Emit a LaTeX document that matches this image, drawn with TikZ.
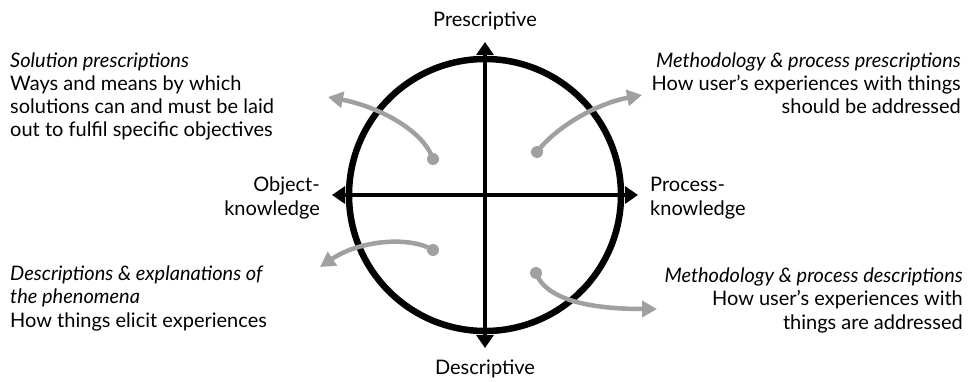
\documentclass[tikz,border=0pt]{standalone}
\usepackage{fontspec}
\setmainfont{Lato}
\usetikzlibrary{arrows.meta}
\definecolor{flowgray}{RGB}{160,160,160}

\begin{document}
\begin{tikzpicture}[x=1pt, y=-1pt,
    axis/.style={line width=4.5pt, {Triangle[length=13pt,width=17pt]}-{Triangle[length=13pt,width=17pt]}},
    flow/.style={draw=flowgray, line width=4.5pt, -{Triangle[length=15pt,width=16pt]}},
    dot/.style={circle, fill=flowgray, inner sep=0pt, minimum size=12pt},
    lbl/.style={inner sep=0pt, font=\fontsize{20}{23.3}\selectfont}]

  \useasboundingbox (0,0) rectangle (968,382);

  % circle and the two axes
  \coordinate (c) at (485,195);
  \draw[line width=6.5pt] (c) circle[radius=136];
  \coordinate (wtip) at (332,195);
  \coordinate (etip) at (638,195);
  \coordinate (ntip) at (485,42);
  \coordinate (stip) at (485,348);
  \draw[axis] (wtip) -- (etip);
  \draw[axis] (ntip) -- (stip);

  % axis labels (base = last line)
  \node[lbl, anchor=base] (pre) at (485,27) {Prescriptive};
  \node[lbl, anchor=base] (des) at (485,374) {Descriptive};
  \node[lbl, align=right, anchor=base east] (obj) at (320,215) {Object-\\knowledge};
  \node[lbl, align=left, anchor=base west] (proc) at (650,215) {Process-\\knowledge};

  % quadrant texts
  \node[lbl, align=left, anchor=base west] (solp) at (10,137)
    {\textit{Solution prescriptions}\\Ways and means by which\\solutions can and must be laid\\out to fulfil specific objectives};
  \node[lbl, align=right, anchor=base east] (metp) at (961,114)
    {\textit{Methodology \& process prescriptions}\\How user’s experiences with things\\should be addressed};
  \node[lbl, align=left, anchor=base west] (desc) at (10,327)
    {\textit{Descriptions \& explanations of}\\\textit{the phenomena}\\How things elicit experiences};
  \node[lbl, align=right, anchor=base east] (metd) at (963,329)
    {\textit{Methodology \& process descriptions}\\How user’s experiences with\\things are addressed};

  % gray arrows out of the quadrants
  \node[dot] (d1) at (433,159) {};
  \node[dot] (d2) at (537,152) {};
  \node[dot] (d3) at (433,250) {};
  \node[dot] (d4) at (536,273) {};
  \coordinate (t1) at (328,97);
  \coordinate (t2) at (642,95);
  \coordinate (t3) at (320,267);
  \coordinate (t4) at (657,309);
  \draw[flow] (d1.center) .. controls (422,128) and (375,106) .. (t1);
  \draw[flow] (d2.center) .. controls (555,128) and (595,104) .. (t2);
  \draw[flow] (d3.center) .. controls (410,236) and (360,240) .. (t3);
  \draw[flow] (d4.center) .. controls (545,298) and (585,309) .. (t4);
\end{tikzpicture}
\end{document}
